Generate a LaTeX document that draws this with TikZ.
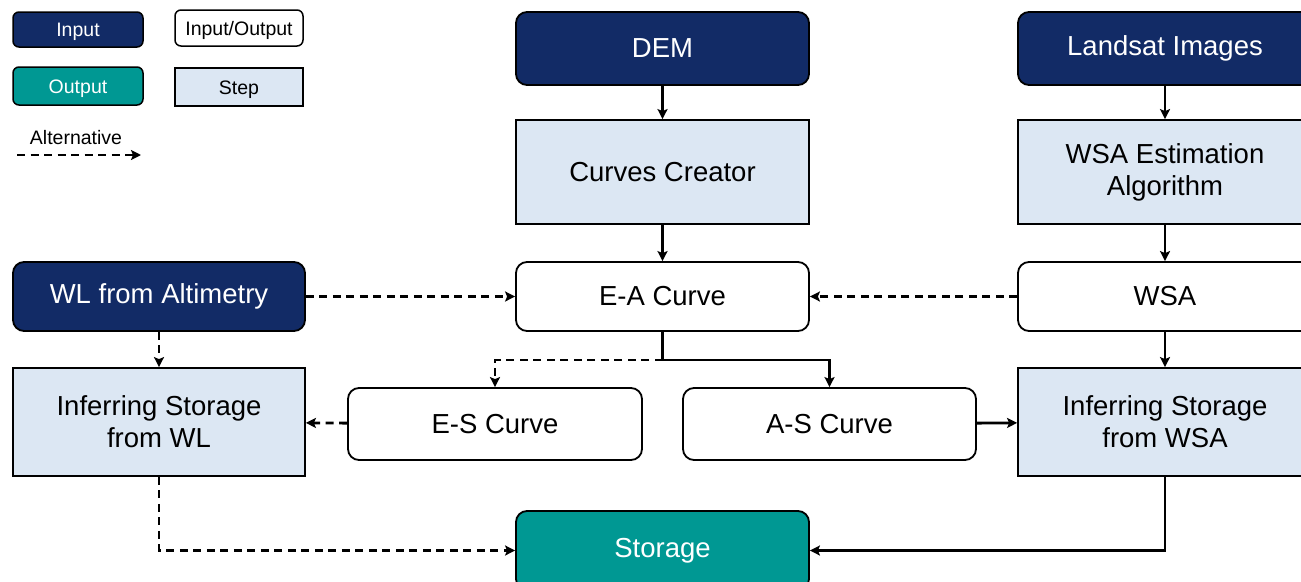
\documentclass[tikz,border=0pt]{standalone}
\usepackage{fontspec}
\setmainfont{Liberation Sans}
\usetikzlibrary{arrows.meta}
\definecolor{navy}{HTML}{122B66}
\definecolor{tealout}{HTML}{009893}
\definecolor{stepfill}{HTML}{DCE7F3}
\tikzset{
  box/.style={draw=black, line width=1.8pt, rounded corners=11pt, inner sep=0pt, align=center,
              font=\fontsize{27.5}{32}\selectfont},
  inbox/.style={box, fill=navy, text=white},
  outbox/.style={box, fill=tealout, text=white},
  iobox/.style={box, fill=white},
  stepbox/.style={box, fill=stepfill, rounded corners=0pt},
  small/.style={line width=1.5pt, rounded corners=6pt, font=\fontsize{19.5}{23}\selectfont,
                text height=14pt, text depth=0pt},
  conn/.style={line width=2.8pt, -{Stealth[length=10pt,width=10pt,inset=2pt]}},
  alt/.style={conn, dash pattern=on 8pt off 5.5pt},
}
\begin{document}
\begin{tikzpicture}[x=1pt,y=-1pt]
\useasboundingbox (0,0) rectangle (1301,581);
\clip (0,0) rectangle (1301,581);

% legend
\node[inbox, small, minimum width=130pt, minimum height=35pt] (lin) at (78,29.5) {Input};
\node[iobox, small, minimum width=128pt, minimum height=36pt] (lio) at (239,28) {Input/Output};
\node[outbox, small, minimum width=130pt, minimum height=38pt] (lout) at (78,86) {Output};
\node[stepbox, small, rounded corners=0pt, minimum width=128pt, minimum height=38pt] (lstep) at (239,87) {Step};
\node[font=\fontsize{19.5}{23}\selectfont] (lalt) at (76,138) {Alternative};
\coordinate (la1) at (17,155);
\coordinate (la2) at (141,155);
\draw[alt] (la1) -- (la2);

% main column and right column
\node[inbox, minimum width=293pt, minimum height=73pt] (dem) at (662.5,48.5) {DEM};
\node[inbox, minimum width=294pt, minimum height=73pt] (land) at (1165,48.5) {Landsat Images};
\node[stepbox, minimum width=293pt, minimum height=104pt] (cc) at (662.5,172) {Curves Creator};
\node[stepbox, minimum width=294pt, minimum height=104pt] (wsaest) at (1165,172) {WSA Estimation\\Algorithm};
\node[iobox, minimum width=293pt, minimum height=69pt] (ea) at (662.5,296.5) {E-A Curve};
\node[iobox, minimum width=294pt, minimum height=69pt] (wsa) at (1165,296.5) {WSA};
\node[inbox, minimum width=292pt, minimum height=69pt] (wl) at (159,296.5) {WL from Altimetry};
\node[stepbox, minimum width=292pt, minimum height=108pt] (isw) at (159,422) {Inferring Storage\\from WL};
\node[stepbox, minimum width=294pt, minimum height=108pt] (isa) at (1165,422) {Inferring Storage\\from WSA};
\node[iobox, minimum width=294pt, minimum height=72pt] (es) at (495,424) {E-S Curve};
\node[iobox, minimum width=293pt, minimum height=72pt] (as) at (829.5,424) {A-S Curve};
\node[outbox, minimum width=293pt, minimum height=79pt] (st) at (662.5,550.5) {Storage};

% connectors
\draw[conn] (dem) -- (cc);
\draw[conn] (cc) -- (ea);
\draw[conn] (land) -- (wsaest);
\draw[conn] (wsaest) -- (wsa);
\draw[conn] (wsa) -- (isa);
\draw[alt] (wl) -- (ea);
\draw[alt] (wsa) -- (ea);
\draw[alt] (wl) -- (isw);

\coordinate (split) at (662.5,360);
\draw[line width=2.8pt] (ea.south) -- (split);
\draw[conn] (split) -| (as.north);
\draw[alt] (split) -| (es.north);
\draw[alt] (es) -- (isw);
\draw[conn] (as) -- (isa);
\draw[alt] (isw.south) |- (st.west);
\draw[conn] (isa.south) |- (st.east);
\end{tikzpicture}
\end{document}
